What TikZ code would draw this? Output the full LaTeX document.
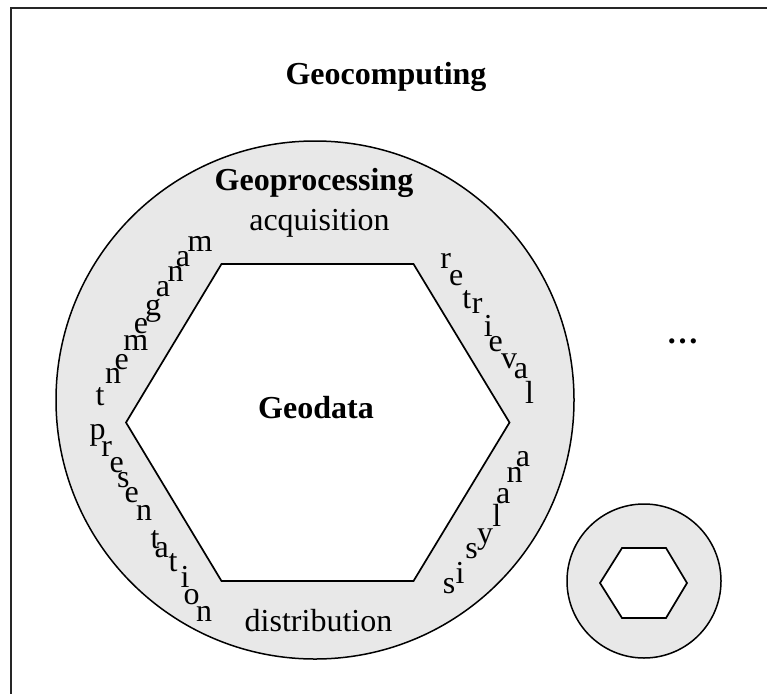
\documentclass[tikz,border=0pt]{standalone}
\usepackage{fontspec}
\setmainfont{Liberation Serif}
\definecolor{ringgray}{RGB}{232,232,232}
\begin{document}
\begin{tikzpicture}[x=1pt,y=-1pt,
  every node/.style={inner sep=0pt, outer sep=0pt},
  txt/.style={font=\fontsize{32}{38}\selectfont, anchor=base},
  boldtxt/.style={font=\fontsize{32}{38}\selectfont\bfseries, anchor=base},
  ring/.style={draw=black, line width=1.5pt, fill=ringgray, circle},
  hexline/.style={draw=black, line width=1.7pt, fill=white, line join=miter},
  frame/.style={draw=black!85, line width=2pt}]
\useasboundingbox (0,0) rectangle (767,693);
\clip (0,0) rectangle (767,693);

% outer frame (runs past the right and bottom edges)
\draw[frame] (10.5,8.5) rectangle (800,730);

% large ring with the geodata hexagon
\node[ring, minimum size=518pt] (bigring) at (315,400) {};
\draw[hexline] (221.5,264) -- (413.5,264) -- (509.5,422.5) -- (413.5,581)
  -- (221.5,581) -- (126,422.5) -- cycle;

% small ring with its hexagon
\node[ring, minimum size=154pt] (smallring) at (644,581) {};
\draw[hexline] (622,548) -- (666,548) -- (687,583) -- (666,618)
  -- (622,618) -- (600,583) -- cycle;

% labels
\node[boldtxt] (geocomp) at (386,84) {Geocomputing};
\node[boldtxt] (geoproc) at (314,190) {Geoprocessing};
\node[txt] (acq) at (319.5,230) {acquisition};
\node[txt] (dist) at (318.5,631) {distribution};
\node[boldtxt] (geodata) at (316,418) {Geodata};
\node[boldtxt] (more) at (682.5,343.5) {…};

% letters set upright along the ring
\foreach \ch/\px/\py [count=\i] in {m/200/251, a/183/266.5, n/175.7/281.5,
    a/163/296.5, g/153/315, e/141/333, m/135.7/350, e/121.7/369,
    n/113/383, t/100/405}
  \node[txt] (mgmt\i) at (\px,\py) {\ch};
\foreach \ch/\px/\py [count=\i] in {p/97.5/439, r/106.7/456, e/116.7/472,
    s/123.3/487, e/131.7/502, n/144/520, t/155/548, a/161.7/557,
    t/173/571, i/185/587, o/191.7/604, n/204/621}
  \node[txt] (pres\i) at (\px,\py) {\ch};
\foreach \ch/\px/\py [count=\i] in {r/445.7/268.3, e/456.3/285, t/466.7/308,
    r/477.3/313.3, i/488.3/336.7, e/495.7/351.7, v/509/368.3, a/521/378,
    l/529.5/403.3}
  \node[txt] (retr\i) at (\px,\py) {\ch};
\foreach \ch/\px/\py [count=\i] in {a/523/466, n/514.5/482.5, a/503.3/503.3,
    l/496.7/526.7, y/485/543, s/471.7/558.3, i/460/583.3, s/449/593.3}
  \node[txt] (anal\i) at (\px,\py) {\ch};
\end{tikzpicture}
\end{document}
